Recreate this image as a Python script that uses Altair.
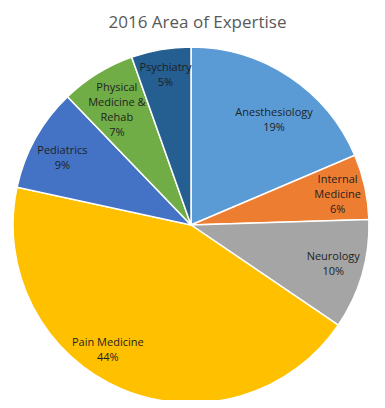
import altair as alt
import pandas as pd

categories = ["Anesthesiology", "Internal Medicine", "Neurology", "Pain Medicine",
              "Pediatrics", "Physical Medicine & Rehab", "Psychiatry"]
label_text = ["Anesthesiology", "Internal\nMedicine", "Neurology", "Pain Medicine",
              "Pediatrics", "Physical\nMedicine &\nRehab", "Psychiatry"]
shares = [18.6, 5.9, 10.0, 43.9, 9.4, 6.8, 5.4]
pct_labels = ["19%", "6%", "10%", "44%", "9%", "7%", "5%"]
colors = ["#5B9BD5", "#ED7D31", "#A5A5A5", "#FFC000", "#4472C4", "#70AD47", "#255E91"]

# label nudges (dx, dy) imitating the spreadsheet's "best fit" placement
nudges = {
    "Anesthesiology": (3, 9),
    "Internal Medicine": (5, -14),
    "Neurology": (3, -8),
    "Pain Medicine": (-26, -15),
    "Pediatrics": (-2, -3),
    "Physical Medicine & Rehab": (2, -14),
    "Psychiatry": (-1, -14),
}

df = pd.DataFrame({
    "category": categories,
    "share": shares,
    "order": list(range(len(categories))),
    "label": [f"{t}\n{p}" for t, p in zip(label_text, pct_labels)],
})

CX, CY = 183, 217

base = alt.Chart(df).encode(
    theta=alt.Theta("share:Q", stack=True),
    order=alt.Order("order:Q"),
)

pie = base.mark_arc(outerRadius=178, stroke="white", strokeWidth=1.5).encode(
    color=alt.Color("category:N", scale=alt.Scale(domain=categories, range=colors), legend=None),
    x=alt.value(CX), y=alt.value(CY),
)

layers = [pie]
for cat in categories:
    dx, dy = nudges[cat]
    layers.append(
        base.mark_text(radius=145, fontSize=11, font="Open Sans", color="#1f1f1f",
                       lineBreak="\n", lineHeight=15, align="center", baseline="middle",
                       dx=dx, dy=dy).encode(
            text=alt.condition(alt.datum.category == cat, "label:N", alt.value("")),
            x=alt.value(CX), y=alt.value(CY),
        )
    )

chart = alt.layer(*layers).properties(
    width=369, height=392, padding=0, autosize="none",
    title=alt.TitleParams("2016 Area of Expertise", fontSize=17, font="Open Sans",
                          fontWeight="normal", color="#595959", anchor="middle",
                          dy=24, dx=5, offset=0),
).configure_view(stroke=None)

chart.save("out.html", embed_options={"renderer": "svg", "actions": False})
